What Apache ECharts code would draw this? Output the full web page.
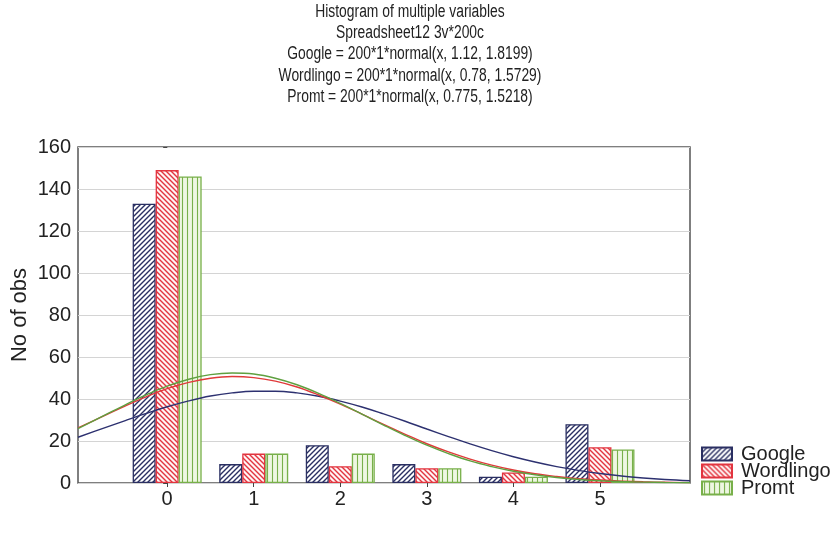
<!DOCTYPE html>
<html><head><meta charset="utf-8">
<script src="https://cdn.jsdelivr.net/npm/echarts@6/dist/echarts.min.js"></script>
<style>html,body{margin:0;padding:0;background:#fff}#c{width:837px;height:540px}</style>
</head><body><div id="c"></div>
<script>
// ---- data ----
var categories = [0, 1, 2, 3, 4, 5];
var googleCounts = [133, 9, 18, 9, 3, 28];
var wordlingoCounts = [149, 14, 8, 7, 5, 17];
var promtCounts = [146, 14, 14, 7, 3, 16];
// fitted normal curves, values read along x
var curveX = [-1.03, -0.75, -0.5, -0.25, 0, 0.25, 0.5, 0.75, 1, 1.25, 1.5, 1.75, 2, 2.25, 2.5, 2.75, 3, 3.25, 3.5, 3.75, 4, 4.25, 4.5, 4.75, 5, 5.25, 5.5, 5.75, 6.04];
var googleCurve = [21.8, 25.9, 29.5, 33.0, 36.3, 39.1, 41.4, 42.9, 43.7, 43.7, 42.9, 41.3, 39.0, 36.2, 32.9, 29.4, 25.7, 22.1, 18.6, 15.4, 12.5, 10.0, 7.8, 6.0, 4.5, 3.3, 2.4, 1.7, 1.1];
var wordlingoCurve = [26.2, 31.6, 36.4, 40.9, 44.9, 47.9, 49.9, 50.7, 50.2, 48.5, 45.7, 41.9, 37.6, 32.8, 27.9, 23.2, 18.7, 14.8, 11.4, 8.5, 6.2, 4.4, 3.1, 2.1, 1.4, 0.9, 0.56, 0.35, 0.19];
var promtCurve = [25.9, 31.7, 36.9, 41.8, 46.1, 49.4, 51.6, 52.4, 51.9, 49.9, 46.8, 42.7, 37.9, 32.8, 27.6, 22.6, 18.0, 14.0, 10.5, 7.8, 5.6, 3.9, 2.6, 1.7, 1.1, 0.7, 0.42, 0.25, 0.1];
var yTicks = [0, 20, 40, 60, 80, 100, 120, 140, 160];
var titleLines = ['Histogram of multiple variables', 'Spreadsheet12 3v*200c',
  'Google = 200*1*normal(x, 1.12, 1.8199)', 'Wordlingo = 200*1*normal(x, 0.78, 1.5729)',
  'Promt = 200*1*normal(x, 0.775, 1.5218)'];

function pattern(kind, bg, fg) {
  var s = 5, c = document.createElement('canvas');
  c.width = s; c.height = s;
  var g = c.getContext('2d');
  g.fillStyle = bg; g.fillRect(0, 0, s, s);
  g.strokeStyle = fg; g.lineWidth = 1.4;
  g.beginPath();
  if (kind === 'fwd') {
    g.moveTo(-1, s + 1); g.lineTo(s + 1, -1);
    g.moveTo(-1, 1); g.lineTo(1, -1);
    g.moveTo(s - 1, s + 1); g.lineTo(s + 1, s - 1);
  } else if (kind === 'back') {
    g.moveTo(-1, -1); g.lineTo(s + 1, s + 1);
    g.moveTo(s - 1, -1); g.lineTo(s + 1, 1);
    g.moveTo(-1, s - 1); g.lineTo(1, s + 1);
  } else {
    g.lineWidth = 1.1;
    g.moveTo(2.5, 0); g.lineTo(2.5, s);
  }
  g.stroke();
  return { image: c, repeat: 'repeat' };
}

var navy = '#2a2f62', red = '#e2343f', green = '#78b04a';
function pairs(xs, ys) { return xs.map(function (x, i) { return [x, ys[i]]; }); }

var chart = echarts.init(document.getElementById('c'));
var font = 'Liberation Sans, Arial, sans-serif';
function barSeries(name, vals, pat, border) {
  return { name: name, type: 'bar', data: pairs(categories, vals), barWidth: 23, barGap: '0%',
    itemStyle: { color: pat, borderColor: border, borderWidth: 1.3 }, z: 2 };
}
function lineSeries(name, vals, col) {
  return { name: name, type: 'line', data: pairs(curveX, vals), smooth: 0.4, symbol: 'none',
    lineStyle: { color: col, width: 1.4 }, itemStyle: { color: col }, z: 2 };
}

var titleY = [12, 33, 54, 76, 97];
var titleGraphics = titleLines.map(function (t, i) {
  return { type: 'text', x: 410, y: titleY[i], scaleX: 0.77, silent: true,
    style: { text: t, x: 0, y: 0, align: 'center', verticalAlign: 'middle',
      font: '18px Liberation Sans, Arial, sans-serif', fill: '#222' } };
});

chart.setOption({
  animation: false,
  backgroundColor: '#fff',
  textStyle: { fontFamily: font },
  graphic: titleGraphics,
  grid: { left: 78, right: 147, top: 147, bottom: 57, show: true, borderColor: '#555', borderWidth: 1.5 },
  legend: { data: ['Google', 'Wordlingo', 'Promt'], orient: 'vertical', left: 696, top: 439,
    icon: 'rect', itemWidth: 30, itemHeight: 13, itemGap: -3,
    textStyle: { fontSize: 20, color: '#222', fontFamily: font, padding: [0, 0, 0, 4] } },
  xAxis: [{ type: 'value', min: -1.03, max: 6.04, position: 'bottom',
    axisLine: { show: false }, splitLine: { show: false },
    axisTick: { show: true, inside: true, length: 3, customValues: categories, lineStyle: { color: '#444' } },
    axisLabel: { customValues: categories, fontSize: 20, color: '#222', margin: 6 } },
  { type: 'value', min: -1.03, max: 6.04, position: 'top',
    axisLine: { show: false }, splitLine: { show: false },
    axisTick: { show: true, inside: true, length: 4, customValues: categories, lineStyle: { color: '#444' } },
    axisLabel: { show: false } }],
  yAxis: [{ type: 'value', min: 0, max: 160, interval: 20, name: 'No of obs', nameLocation: 'middle', nameGap: 47,
    nameMoveOverlap: false,
    nameTextStyle: { fontSize: 22, color: '#222' },
    axisLine: { show: false }, axisTick: { show: true, length: 3, lineStyle: { color: '#444' } },
    splitLine: { show: true, lineStyle: { color: '#d4d4d4', width: 1 } },
    axisLabel: { customValues: yTicks, fontSize: 20, color: '#222', margin: 7 } },
  { type: 'value', min: 0, max: 160, interval: 20, position: 'right',
    axisLine: { show: false }, splitLine: { show: false },
    axisTick: { show: true, inside: true, length: 4, lineStyle: { color: '#444' } },
    axisLabel: { show: false } }],
  series: [
    barSeries('Google', googleCounts, pattern('fwd', '#ffffff', navy), navy),
    lineSeries('Google fit', googleCurve, '#2d3170'),
    barSeries('Wordlingo', wordlingoCounts, pattern('back', '#fff4f4', red), red),
    lineSeries('Wordlingo fit', wordlingoCurve, '#e03a3a'),
    barSeries('Promt', promtCounts, pattern('vert', '#eef7e2', green), green),
    lineSeries('Promt fit', promtCurve, '#5fa040')
  ]
});
</script></body></html>
